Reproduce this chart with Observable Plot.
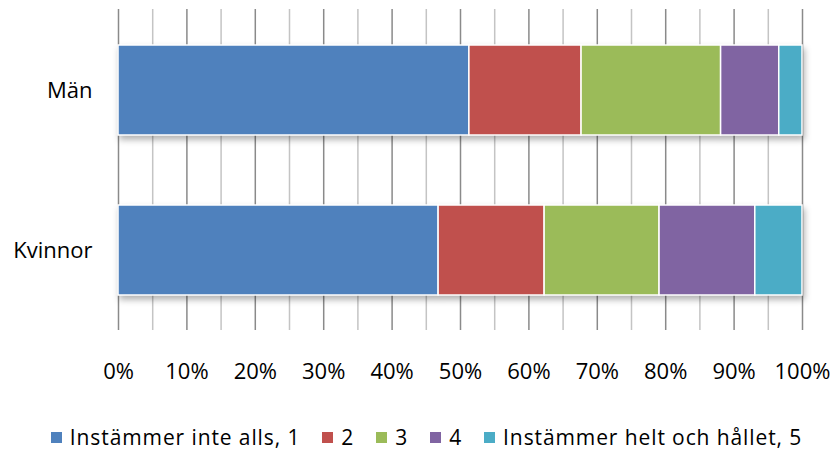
<!DOCTYPE html>
<html>
<head>
<meta charset="utf-8">
<script src="https://cdn.jsdelivr.net/npm/d3@7"></script>
<script src="https://cdn.jsdelivr.net/npm/@observablehq/plot@0.6"></script>
<style>
  html, body { margin: 0; padding: 0; background: #fff; }
  #wrap { position: relative; width: 833px; height: 454px; font-family: "Open Sans", sans-serif; }
  #legend { position: absolute; top: 423px; left: 0; width: 833px; display: flex; justify-content: center; align-items: center; font-size: 21px; letter-spacing: 0.9px; color: #000; padding-left: 20px; box-sizing: border-box; }
  .item { display: flex; align-items: center; margin-right: 22px; white-space: nowrap; }
  .item:last-child { margin-right: 0; }
  .sw { width: 11px; height: 11px; margin-right: 8px; display: inline-block; }
</style>
</head>
<body>
<div id="wrap"><div id="chart"></div><div id="legend"></div></div>
<script>
const categories = ["Män", "Kvinnor"];
const levels = ["Instämmer inte alls, 1", "2", "3", "4", "Instämmer helt och hållet, 5"];
const colors = ["#4F81BD", "#C0504D", "#9BBB59", "#8064A2", "#4BACC6"];
const manValues = [51.3, 16.4, 20.4, 8.5, 3.4];
const kvinnorValues = [46.8, 15.5, 16.8, 14.0, 6.9];
const xTicks = [0, 10, 20, 30, 40, 50, 60, 70, 80, 90, 100];
const gridMajor = [0, 10, 20, 30, 40, 50, 60, 70, 80, 90, 100];
const gridMinor = [5, 15, 25, 35, 45, 55, 65, 75, 85, 95];

const data = [];
[manValues, kvinnorValues].forEach((vals, i) => {
  vals.forEach((v, j) => data.push({category: categories[i], level: levels[j], value: v}));
});

const chart = Plot.plot({
  width: 833,
  height: 400,
  marginLeft: 118,
  marginRight: 31,
  marginTop: 9,
  marginBottom: 70,
  style: {fontFamily: "Open Sans, sans-serif", fontSize: "22px", color: "#000", background: "white", overflow: "visible"},
  x: {domain: [0, 100], axis: null},
  y: {domain: categories, paddingInner: 0.4375, paddingOuter: 0.219, axis: null},
  color: {domain: levels, range: colors},
  marks: [
    Plot.ruleX(gridMinor, {stroke: "#c4c4c4", strokeWidth: 1.5}),
    Plot.ruleX(gridMajor, {stroke: "#8a8a8a", strokeWidth: 1.5}),
    Plot.barX(data, Plot.stackX({x: "value", y: "category", fill: "level", stroke: "white", strokeWidth: 1.5})),
    Plot.axisX({ticks: xTicks, tickSize: 0, tickPadding: 33, tickFormat: d => d + "%", label: null, fontSize: 22}),
    Plot.axisY({tickSize: 0, tickPadding: 26, label: null, fontSize: 22})
  ]
});
document.getElementById("chart").appendChild(chart);
d3.select(chart).selectAll('g[aria-label="bar"]').style("filter", "drop-shadow(2px 4px 3px rgba(0,0,0,0.3))");

const legend = document.getElementById("legend");
levels.forEach((l, i) => {
  const it = document.createElement("div");
  it.className = "item";
  const sw = document.createElement("span");
  sw.className = "sw";
  sw.style.background = colors[i];
  const t = document.createElement("span");
  t.textContent = l;
  it.appendChild(sw);
  it.appendChild(t);
  legend.appendChild(it);
});
</script>
</body>
</html>
